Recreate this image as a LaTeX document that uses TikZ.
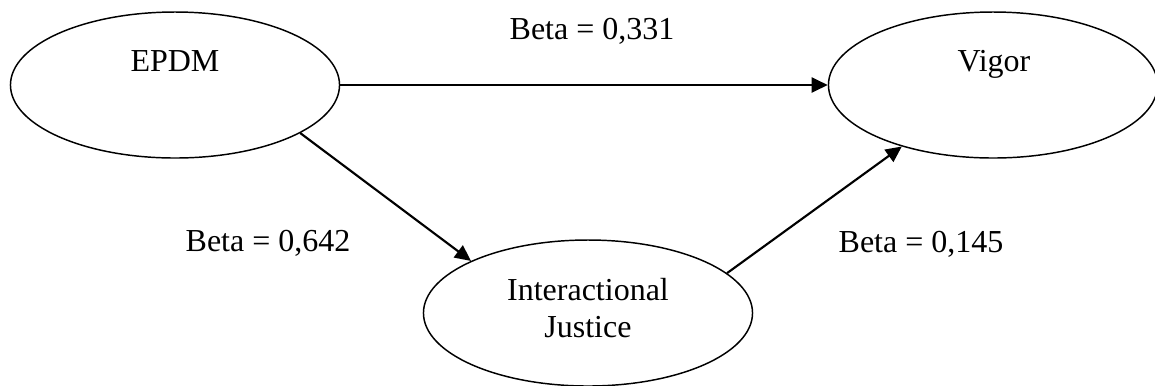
\documentclass[tikz,border=0pt]{standalone}
\usepackage{fontspec}
\setmainfont{Liberation Serif}
\usetikzlibrary{shapes.geometric}
\usetikzlibrary{arrows.meta}

\begin{document}
\begin{tikzpicture}[
    x=0.375pt, y=-0.375pt,
    font=\fontsize{12}{13.8}\selectfont,
    construct/.style={ellipse, draw, line width=0.55pt, inner sep=0pt,
      minimum width=123.4pt, minimum height=54.75pt},
    effect/.style={line width=0.8pt, -{Triangle[length=6pt,width=5.6pt]}},
    coef/.style={anchor=base},
  ]
  \useasboundingbox (0,0) rectangle (1155,385);
  \node[construct] (epdm) at (175,85) {};
  \node[construct] (vigor) at (993,85) {};
  \node[construct] (justice) at (588,313) {};
  % names sit high inside the ellipses
  \node[anchor=base] (epdmname) at (175,71) {EPDM};
  \node[anchor=base] (vigorname) at (994,71) {Vigor};
  \node[anchor=base, align=center] (justicename) at (588,337) {Interactional\\Justice};
  \draw[effect] (epdm.east) -- (vigor.west);
  \draw[effect] (epdm.-21) -- (justice.156.5);
  \draw[effect] (justice.16) -- (vigor.214);
  \node[coef] (betaev) at (592,39) {Beta = 0,331};
  \node[coef] (betaej) at (268,251) {Beta = 0,642};
  \node[coef] (betajv) at (921,252) {Beta = 0,145};
\end{tikzpicture}
\end{document}
